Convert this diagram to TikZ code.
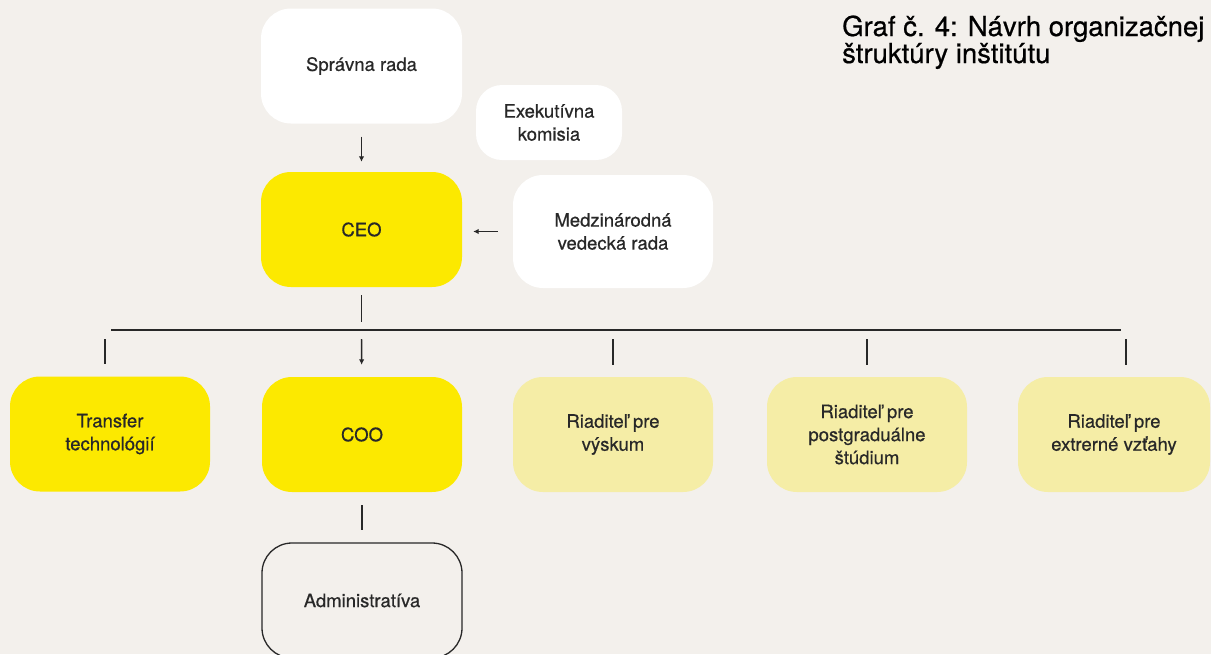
\documentclass[tikz,border=0pt]{standalone}
\usepackage{fontspec}
\setmainfont{TeX Gyre Heros}[FakeBold=0.6]
\usetikzlibrary{arrows.meta}
\definecolor{bg}{RGB}{243,240,236}
\definecolor{strong}{RGB}{252,233,0}
\definecolor{pale}{RGB}{245,237,166}
\definecolor{ink}{RGB}{40,40,40}
\tikzset{
  box/.style={rectangle, rounded corners=30pt, minimum width=201pt, minimum height=115pt,
    align=center, inner sep=0pt, text=ink, font=\fontsize{18.5}{23}\selectfont},
  whitebox/.style={box, fill=white},
  mainbox/.style={box, fill=strong},
  palebox/.style={box, fill=pale},
  outlinebox/.style={box, draw=ink, line width=1.3pt},
  link/.style={draw=ink, line width=1.4pt},
  arrowlink/.style={link, -{Latex[length=5.5pt,width=5.5pt]}},
  titletext/.style={anchor=base west, inner sep=0pt, text=black, font=\fontsize{27.5}{29}\selectfont}
}
\begin{document}
\begin{tikzpicture}[x=1pt,y=-1pt]
  \fill[bg] (0,0) rectangle (1211,654);
  \useasboundingbox (0,0) rectangle (1211,654);
  \clip (0,0) rectangle (1211,654);

  % title
  \node[titletext] (title1) at (842,36) {Graf č. 4: Návrh organizačnej};
  \node[titletext] (title2) at (842,63) {štruktúry inštitútu};

  % upper level
  \node[whitebox] (rada) at (361.5,66) {Správna rada};
  \node[whitebox, minimum width=146pt, minimum height=75pt, rounded corners=26pt] (komisia) at (549,122.5) {Exekutívna\\komisia};
  \node[mainbox] (ceo) at (361.5,229.5) {CEO};
  \node[whitebox, minimum width=200pt, minimum height=113pt] (rada2) at (613,231.5) {Medzinárodná\\vedecká rada};

  % second level
  \node[mainbox, minimum width=200pt] (transfer) at (110,434) {Transfer\\technológií};
  \node[mainbox, minimum width=200pt] (coo) at (362,434.5) {COO};
  \node[palebox, minimum width=200pt] (vyskum) at (613,434.5) {Riaditeľ pre\\výskum};
  \node[palebox, minimum width=200pt] (studium) at (867,434.5) {Riaditeľ pre\\postgraduálne\\štúdium};
  \node[palebox, minimum width=192pt] (vztahy) at (1114,434.5) {Riaditeľ pre\\extrerné vzťahy};

  % third level
  \node[outlinebox, minimum width=200pt] (admin) at (362,600.5) {Administratíva};

  % connectors
  \draw[arrowlink, shorten <=13pt, shorten >=10pt] (rada) -- (ceo);
  \draw[arrowlink, shorten <=15pt, shorten >=11pt] (rada2.west) -- (ceo.east |- rada2.west);

  \coordinate (busL) at (111,330);
  \coordinate (busR) at (1121,330);
  \coordinate (busC) at (361.5,330);
  \coordinate (tickT) at (105,330);
  \coordinate (tickV) at (1126,330);
  \draw[link] (busL) -- (busR);
  \draw[link, shorten <=8pt, shorten >=8pt] (ceo) -- (busC);

  \draw[link, shorten <=9pt, shorten >=12pt] (tickT) -- (tickT |- transfer.north);
  \draw[arrowlink, shorten <=9pt, shorten >=12pt] (busC) -- (coo);
  \draw[link, shorten <=9pt, shorten >=12pt] (vyskum |- busL) -- (vyskum);
  \draw[link, shorten <=9pt, shorten >=12pt] (studium |- busL) -- (studium);
  \draw[link, shorten <=9pt, shorten >=12pt] (tickV) -- (tickV |- vztahy.north);

  \draw[link, shorten <=13pt, shorten >=12pt] (coo) -- (admin);
\end{tikzpicture}
\end{document}
